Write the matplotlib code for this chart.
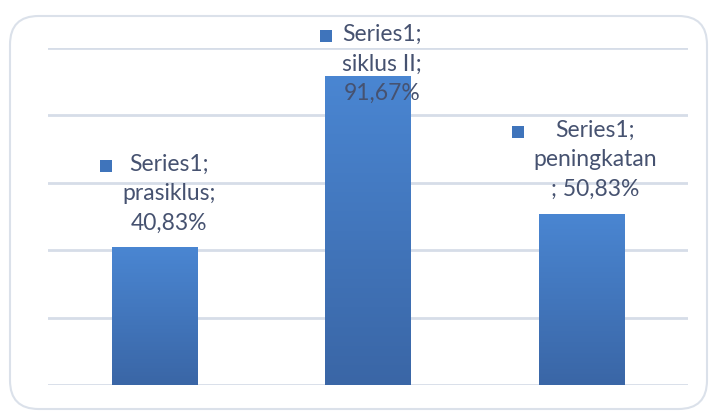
import numpy as np
import matplotlib
matplotlib.use("Agg")
import matplotlib.pyplot as plt
from matplotlib.patches import FancyBboxPatch
from matplotlib.colors import LinearSegmentedColormap

# Chart data
series_name = "Series1"
categories = ["prasiklus", "siklus II", "peningkatan"]
values = [40.83, 91.67, 50.83]
label_lines = [
    ["prasiklus;", "40,83%"],
    ["siklus II;", "91,67%"],
    ["peningkatan", "; 50,83%"],
]
y_ticks = [0, 20, 40, 60, 80, 100]

W, H, DPI = 714, 412, 100
fig = plt.figure(figsize=(W / DPI, H / DPI), dpi=DPI)
fig.patch.set_facecolor("white")

# Rounded chart-area frame
frame = FancyBboxPatch((10 / W, 3 / H), 697 / W, 393 / H,
                       boxstyle="round,pad=0,rounding_size=0.04",
                       transform=fig.transFigure, facecolor="none",
                       edgecolor="#dbe1ea", linewidth=1.5, zorder=-1,
                       mutation_aspect=W / H)
fig.patches.append(frame)

ax = fig.add_axes([48 / W, (H - 385) / H, 640 / W, 337 / H])
ax.set_zorder(1)
ax.set_facecolor("none")
for s in ax.spines.values():
    s.set_visible(False)
ax.set_xticks([])
ax.set_yticks([])
for t in y_ticks:
    ax.axhline(t, color="#d6dde8", linewidth=2, zorder=1)

x = np.arange(len(categories))
bars = ax.bar(x, values, width=0.4, color="#3f78c0", zorder=2, linewidth=0)

# Vertical gradient fill for each bar
cmap = LinearSegmentedColormap.from_list("bar", ["#3a66a6", "#4a86d2"])
grad = np.linspace(0, 1, 256).reshape(-1, 1)
for b in bars:
    x0, y0 = b.get_x(), b.get_y()
    w, h = b.get_width(), b.get_height()
    im = ax.imshow(grad, extent=[x0, x0 + w, y0, y0 + h], origin="lower",
                   cmap=cmap, aspect="auto", zorder=3, interpolation="bicubic")
    im.set_clip_path(b)
ax.set_xlim(-0.5, len(categories) - 0.5)
ax.set_ylim(0, 100)

font = "Lato"
text_color = "#465270"
fs = 16.5
px_per_unit = 337 / 100.0

texts = []
for i, (v, lines) in enumerate(zip(values, label_lines)):
    block = "\n".join([series_name + ";"] + lines)
    yc = min(v + 54 / px_per_unit, (385 - 64) / px_per_unit)
    t = ax.text(i + 14 / 213.0, yc, block, ha="center", va="center",
                fontsize=fs, family=font, color=text_color,
                linespacing=1.5, zorder=5, clip_on=False)
    texts.append(t)

fig.canvas.draw()
renderer = fig.canvas.get_renderer()
inv = ax.transData.inverted()
for t in texts:
    bb = t.get_window_extent(renderer)
    line_h = bb.height / 3.0
    mx_px = bb.x0 - 16
    my_px = bb.y1 - line_h / 2 + 1
    mx, my = inv.transform((mx_px, my_px))
    ax.plot([mx], [my], marker="s", markersize=8.5, color="#3f74bb",
            markeredgewidth=0, zorder=6, clip_on=False)

fig.savefig("out.png", dpi=DPI, facecolor="white")
